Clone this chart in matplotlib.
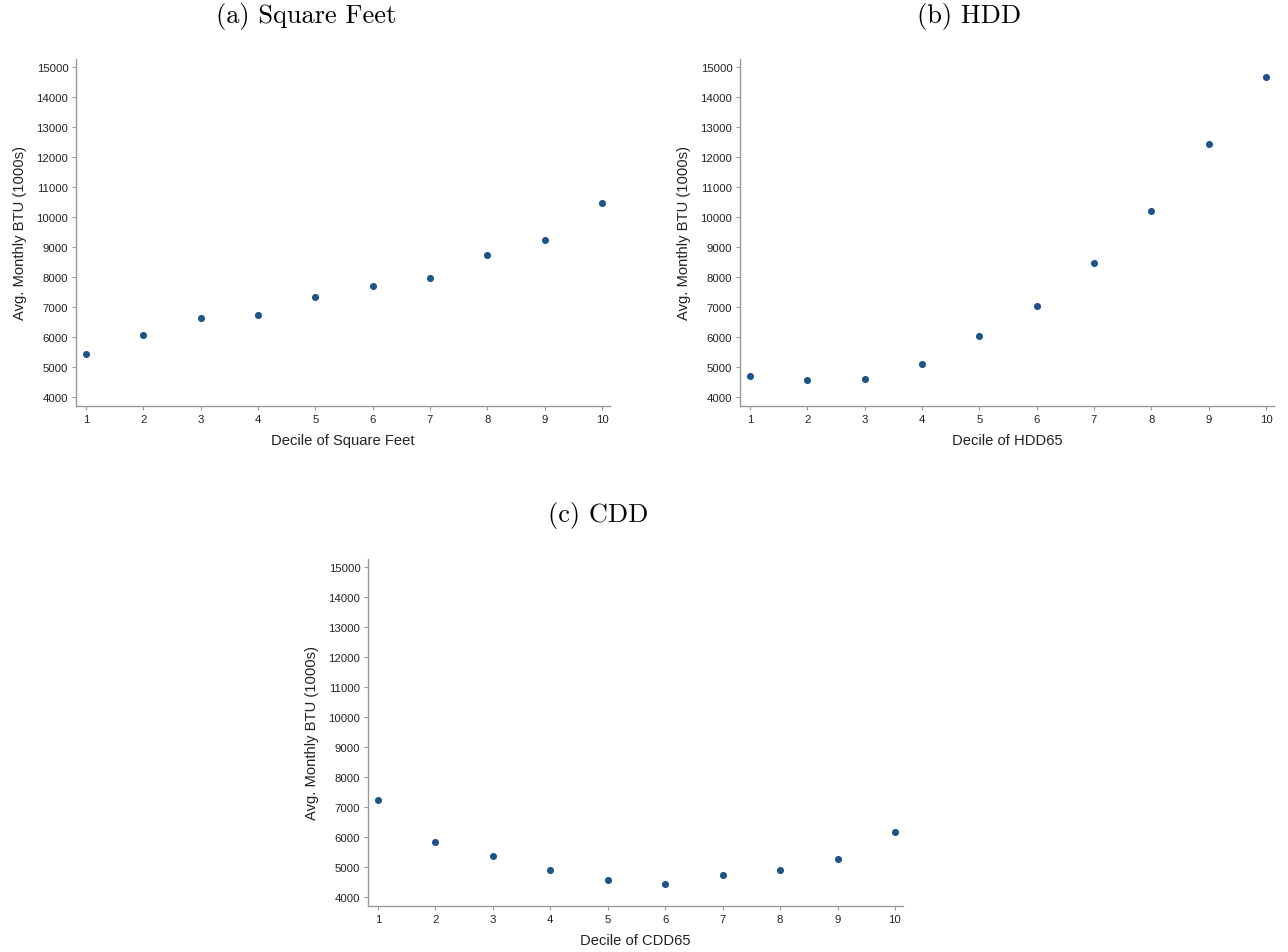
import numpy as np
import matplotlib.pyplot as plt

deciles = [1, 2, 3, 4, 5, 6, 7, 8, 9, 10]
sqft_btu = [5430, 6070, 6630, 6730, 7330, 7700, 7970, 8730, 9230, 10470]
hdd_btu = [4700, 4570, 4600, 5100, 6030, 7030, 8470, 10200, 12430, 14670]
cdd_btu = [7230, 5830, 5370, 4900, 4570, 4430, 4730, 4900, 5270, 6170]
yticks = list(range(4000, 15001, 1000))

titles = ['(a) Square Feet', '(b) HDD', '(c) CDD']
xlabels = ['Decile of Square Feet', 'Decile of HDD65', 'Decile of CDD65']
ylabel = 'Avg. Monthly BTU (1000s)'

plt.rcParams['font.family'] = ['Liberation Sans', 'DejaVu Sans']

W, H = 1288, 953
fig = plt.figure(figsize=(W / 100, H / 100), dpi=100)

# axes boxes in pixels: left, top, right, bottom
boxes = [(76, 60, 610, 407), (740, 60, 1274, 407), (368, 560, 903, 907)]
title_pos = [(306, 16), (969, 16), (598, 516)]
series = [sqft_btu, hdd_btu, cdd_btu]

col = '#1f5488'
grey = '#9a9a9a'

for i in range(3):
    l, t, r, b = boxes[i]
    ax = fig.add_axes([l / W, 1 - b / H, (r - l) / W, (b - t) / H])
    ax.scatter(deciles, series[i], s=26, color=col, zorder=3, linewidths=0)
    ax.set_xlim(0.826, 10.14)
    ax.set_ylim(3700, 15270)
    ax.set_xticks(deciles)
    ax.set_yticks(yticks)
    ax.tick_params(labelsize=8.2, colors='#222222', length=3, width=0.8, pad=2.5)
    ax.tick_params(axis='both', color=grey)
    for s in ['top', 'right']:
        ax.spines[s].set_visible(False)
    for s in ['left', 'bottom']:
        ax.spines[s].set_color(grey)
        ax.spines[s].set_linewidth(1.0)
    ax.set_xlabel(xlabels[i], fontsize=10.6, color='#222222', labelpad=7)
    ax.set_ylabel(ylabel, fontsize=10.6, color='#222222', labelpad=7)
    tx, ty = title_pos[i]
    fig.text(tx / W, 1 - ty / H, titles[i], ha='center', va='center',
             fontsize=19, family='cmr10')

fig.savefig('out.png', dpi=100)
